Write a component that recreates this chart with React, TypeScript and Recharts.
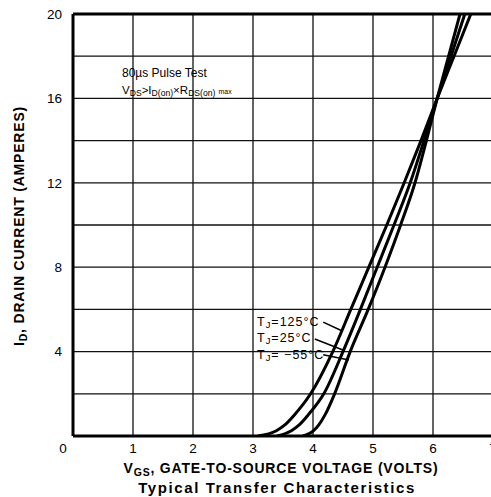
import React from "react";
import {
  LineChart,
  Line,
  XAxis,
  YAxis,
  CartesianGrid,
  ReferenceLine,
} from "recharts";

// drain current levels (A) at which the gate voltage of each curve was read
const currentLevels = [0, 0.25, 0.5, 1, 2, 4, 6, 8, 10, 12, 14, 16, 18, 20];

// gate-to-source voltage (V) for each current level
const vgsTj125 = [3.08, 3.39, 3.52, 3.69, 3.96, 4.33, 4.63, 4.93, 5.23, 5.52, 5.8, 6.07, 6.35, 6.63];
const vgsTj25 = [3.4, 3.64, 3.76, 3.92, 4.18, 4.5, 4.79, 5.07, 5.35, 5.62, 5.85, 6.07, 6.3, 6.53];
const vgsTjM55 = [3.83, 4.01, 4.09, 4.2, 4.36, 4.62, 4.92, 5.2, 5.46, 5.7, 5.89, 6.07, 6.26, 6.45];

const xTicks = [0, 1, 2, 3, 4, 5, 6, 7];
const yTicks = [0, 2, 4, 6, 8, 10, 12, 14, 16, 18, 20];

// leader lines from the labels to the curves (V, A)
const leader125 = [{ x: 4.17, y: 5.4 }, { x: 4.47, y: 5.0 }];
const leader25 = [{ x: 4.03, y: 4.6 }, { x: 4.52, y: 4.05 }];
const leaderM55 = [{ x: 4.17, y: 3.85 }, { x: 4.6, y: 3.6 }];

const toPoints = (vs: number[]) => vs.map((v, k) => ({ v, i: currentLevels[k] }));

const FONT = '"Liberation Sans", Arial, Helvetica, sans-serif';

function XTick(props: any) {
  const { x, y, payload } = props;
  const dx = payload.value === 0 ? -10 : 0;
  return (
    <text x={x + dx} y={y} dy={9} textAnchor="middle" fontSize={13.5} fontFamily={FONT} fill="#000">
      {payload.value}
    </text>
  );
}

const sub: React.CSSProperties = { fontSize: "0.75em", verticalAlign: "-0.25em" };

export default function App() {
  const s125 = toPoints(vgsTj125);
  const s25 = toPoints(vgsTj25);
  const sM55 = toPoints(vgsTjM55);

  const curveLabel: React.CSSProperties = {
    position: "absolute",
    left: 257,
    fontSize: 12.5,
    letterSpacing: 1,
    whiteSpace: "nowrap",
    lineHeight: "16px",
  };

  return (
    <div
      style={{
        position: "absolute",
        left: 0,
        top: 0,
        width: 491,
        height: 497,
        overflow: "hidden",
        background: "#fff",
        fontFamily: FONT,
        color: "#000",
      }}
    >
      <LineChart
        width={520}
        height={497}
        margin={{ top: 14, right: 27, bottom: 31, left: 0 }}
      >
        <CartesianGrid stroke="#111" strokeWidth={1.3} />
        <XAxis
          type="number"
          dataKey="v"
          domain={[0, 7]}
          ticks={xTicks}
          allowDataOverflow
          height={30}
          tickLine={false}
          axisLine={{ stroke: "#000", strokeWidth: 3 }}
          tick={<XTick />}
        />
        <YAxis
          type="number"
          dataKey="i"
          domain={[0, 20]}
          ticks={yTicks}
          allowDataOverflow
          width={73}
          tickLine={false}
          tickMargin={5}
          axisLine={{ stroke: "#000", strokeWidth: 3 }}
          tickFormatter={(v: number) => (v % 4 === 0 && v !== 0 ? String(v) : "")}
          tick={{ fontSize: 13.5, fill: "#000", fontFamily: FONT }}
        />
        <ReferenceLine y={20} stroke="#000" strokeWidth={3} />
        <Line data={s125} dataKey="i" type="monotone" stroke="#000" strokeWidth={3} dot={false} isAnimationActive={false} />
        <Line data={s25} dataKey="i" type="monotone" stroke="#000" strokeWidth={3} dot={false} isAnimationActive={false} />
        <Line data={sM55} dataKey="i" type="monotone" stroke="#000" strokeWidth={3} dot={false} isAnimationActive={false} />
        <ReferenceLine segment={leader125} stroke="#000" strokeWidth={1.5} ifOverflow="visible" />
        <ReferenceLine segment={leader25} stroke="#000" strokeWidth={1.5} ifOverflow="visible" />
        <ReferenceLine segment={leaderM55} stroke="#000" strokeWidth={1.5} ifOverflow="visible" />
      </LineChart>

      {/* pulse test note */}
      <div style={{ position: "absolute", left: 122, top: 65, fontSize: 12, lineHeight: "17px", whiteSpace: "nowrap" }}>
        <div>80µs Pulse Test</div>
        <div style={{ fontSize: 11.5 }}>
          V<span style={sub}>DS</span>&gt;I<span style={sub}>D(on)</span>×R<span style={sub}>DS(on)</span>{" "}
          <span style={{ fontSize: "0.6em" }}>max</span>
        </div>
      </div>

      {/* curve labels */}
      <div style={{ ...curveLabel, top: 314 }}>
        T<span style={sub}>J</span>=125°C
      </div>
      <div style={{ ...curveLabel, top: 330 }}>
        T<span style={sub}>J</span>=25°C
      </div>
      <div style={{ ...curveLabel, top: 347 }}>
        T<span style={sub}>J</span>= −55°C
      </div>

      {/* y axis title */}
      <div
        style={{
          position: "absolute",
          left: 20,
          top: 226,
          transform: "translate(-50%, -50%) rotate(-90deg)",
          fontSize: 14,
          fontWeight: "bold",
          letterSpacing: 0.8,
          whiteSpace: "nowrap",
        }}
      >
        I<span style={sub}>D</span>, DRAIN CURRENT (AMPERES)
      </div>

      {/* x axis title and caption */}
      <div
        style={{
          position: "absolute",
          left: 281,
          top: 469,
          transform: "translate(-50%, -50%)",
          fontSize: 14,
          fontWeight: "bold",
          letterSpacing: 0.8,
          whiteSpace: "nowrap",
        }}
      >
        V<span style={sub}>GS</span>, GATE-TO-SOURCE VOLTAGE (VOLTS)
      </div>
      <div
        style={{
          position: "absolute",
          left: 277,
          top: 487,
          transform: "translate(-50%, -50%)",
          fontSize: 15,
          fontWeight: "bold",
          letterSpacing: 1.6,
          whiteSpace: "nowrap",
        }}
      >
        Typical Transfer Characteristics
      </div>
    </div>
  );
}
